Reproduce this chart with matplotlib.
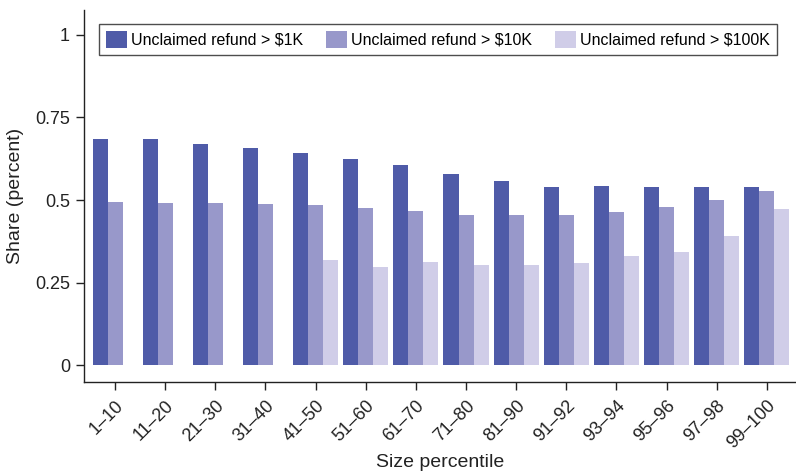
import matplotlib
matplotlib.use("Agg")
import matplotlib.pyplot as plt
import numpy as np

plt.rcParams["font.family"] = ["Liberation Sans", "DejaVu Sans"]

percentiles = ["1\u201310", "11\u201320", "21\u201330", "31\u201340", "41\u201350",
               "51\u201360", "61\u201370", "71\u201380", "81\u201390", "91\u201392",
               "93\u201394", "95\u201396", "97\u201398", "99\u2013100"]
over_1k = [0.685, 0.685, 0.670, 0.658, 0.643, 0.625, 0.607,
           0.580, 0.558, 0.540, 0.543, 0.540, 0.540, 0.540]
over_10k = [0.495, 0.492, 0.492, 0.489, 0.486, 0.477, 0.468,
            0.456, 0.456, 0.456, 0.465, 0.480, 0.501, 0.528]
over_100k = [0.0, 0.0, 0.0, 0.0, 0.320, 0.298, 0.313,
             0.304, 0.304, 0.310, 0.332, 0.344, 0.392, 0.474]

series = [
    ("Unclaimed refund > $1K", over_1k, "#4f5ba8"),
    ("Unclaimed refund > $10K", over_10k, "#9898ca"),
    ("Unclaimed refund > $100K", over_100k, "#d0cde8"),
]

fig = plt.figure(figsize=(7.96, 4.73), dpi=100)
ax = fig.add_axes([0.1055, 0.1924, 0.8945, 0.7866])

x = np.arange(len(percentiles))
width = 0.3
for i, (label, vals, color) in enumerate(series):
    ax.bar(x + (i - 1) * width, vals, width, color=color, label=label, linewidth=0)

ax.set_xlim(-0.62, 13.58)
ax.set_ylim(-0.05, 1.075)
ax.set_yticks([0, 0.25, 0.5, 0.75, 1])
ax.set_yticklabels(["0", "0.25", "0.5", "0.75", "1"])
ax.set_xticks(x)
ax.set_xticklabels(percentiles, rotation=45, ha="right", va="top",
                   rotation_mode="anchor")

for side in ("top", "right"):
    ax.spines[side].set_visible(False)
for side in ("left", "bottom"):
    ax.spines[side].set_linewidth(1.0)
    ax.spines[side].set_color("#222222")

ax.tick_params(axis="both", direction="out", length=6, width=1, color="#222222",
               labelsize=13, labelcolor="#222222")
ax.tick_params(axis="x", pad=5)
ax.tick_params(axis="y", pad=4)

ax.set_ylabel("Share (percent)", fontsize=14, color="#222222", labelpad=8)
ax.set_xlabel("Size percentile", fontsize=14, color="#222222", labelpad=1)

# legend box spans nearly the full width, just below the top of the axes
leg = ax.legend(loc="upper left", bbox_to_anchor=(0.021, 0.870, 0.952, 0.093),
                mode="expand", ncol=3, fontsize=11.5, frameon=True,
                fancybox=False, borderpad=0.45, handlelength=1.3, handleheight=1.3,
                handletextpad=0.25, columnspacing=1.0, borderaxespad=0)
leg.get_frame().set_edgecolor("#222222")
leg.get_frame().set_linewidth(1.0)

fig.savefig("out.png", dpi=100)
